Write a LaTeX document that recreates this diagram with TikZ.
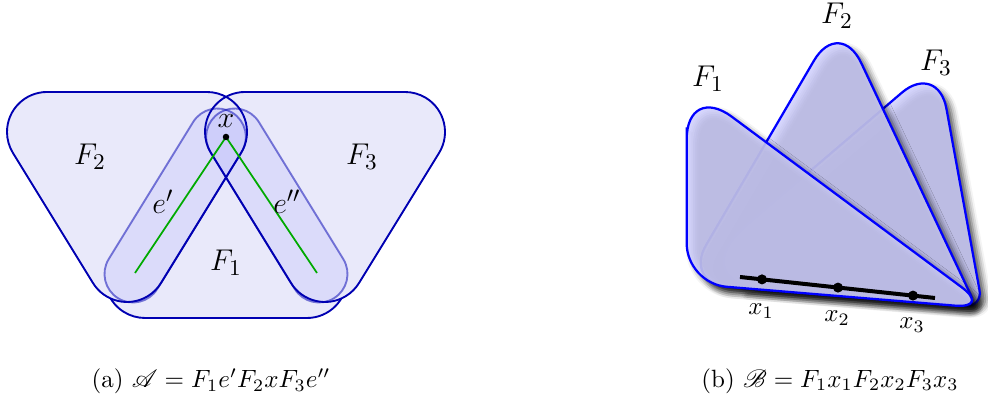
\documentclass[tikz,border=0pt]{standalone}
\usepackage{mathrsfs}
\usetikzlibrary{calc,shadows.blur}
\definecolor{ffill}{RGB}{233,233,250}
\definecolor{fline}{RGB}{0,0,178}
\definecolor{gline}{RGB}{0,170,0}
\tikzset{
  hyperfill/.style={fill=ffill},
  hyperline/.style={draw=fline, line width=0.75pt},
  capsule/.style={fill=blue, fill opacity=0.06, draw=fline, draw opacity=0.5, line width=0.75pt},
  edgeline/.style={draw=gline, line width=0.7pt},
  face/.style={draw=blue, line width=0.9pt, fill=blue!18, fill opacity=0.85,
    blur shadow={shadow xshift=2.2pt, shadow yshift=-2.2pt, shadow blur radius=2.5pt, shadow opacity=70}},
  lbl/.style={inner sep=1pt, font=\fontsize{12.5}{15}\selectfont},
  plbl/.style={inner sep=1pt, font=\normalsize},
}
\begin{document}
\begin{tikzpicture}[x=0.4pt,y=0.4pt]
\useasboundingbox (0,0) rectangle (988,404);
% ---------- (a) ----------
\coordinate (F2tl) at (47,272); \coordinate (F2tr) at (207,272); \coordinate (F2b) at (127,142);
\coordinate (F3tl) at (245,272); \coordinate (F3tr) at (405,272); \coordinate (F3b) at (325,142);
\coordinate (F1bl) at (145,126); \coordinate (F1br) at (307,126); \coordinate (F1a) at (226,254);
\coordinate (eaT) at (217.4,267); \coordinate (eaB) at (133,130);
\coordinate (ebT) at (234.6,267); \coordinate (ebB) at (319,130);
\coordinate (xv) at (226,267); \coordinate (ea) at (135,131); \coordinate (eb) at (317,131);
% F1
\path[hyperfill, hyperline] ($(F1bl)+(270:16pt)$) -- ($(F1br)+(270:16pt)$)
  arc[start angle=-90,end angle=32.3,radius=16pt] -- ($(F1a)+(32.3:16pt)$)
  arc[start angle=32.3,end angle=147.7,radius=16pt] -- ($(F1bl)+(147.7:16pt)$)
  arc[start angle=147.7,end angle=270,radius=16pt] -- cycle;
% F2, F3 fills
\path[hyperfill] ($(F2tr)+(-31.6:16pt)$) arc[start angle=-31.6,end angle=90,radius=16pt]
  -- ($(F2tl)+(90:16pt)$) arc[start angle=90,end angle=211.6,radius=16pt]
  -- ($(F2b)+(211.6:16pt)$) arc[start angle=211.6,end angle=328.4,radius=16pt] -- cycle;
\path[hyperfill] ($(F3tr)+(-31.6:16pt)$) arc[start angle=-31.6,end angle=90,radius=16pt]
  -- ($(F3tl)+(90:16pt)$) arc[start angle=90,end angle=211.6,radius=16pt]
  -- ($(F3b)+(211.6:16pt)$) arc[start angle=211.6,end angle=328.4,radius=16pt] -- cycle;
% capsules
\path[capsule] ($(eaB)+(-31.6:11.4pt)$) -- ($(eaT)+(-31.6:11.4pt)$)
  arc[start angle=-31.6,end angle=148.4,radius=11.4pt] -- ($(eaB)+(148.4:11.4pt)$)
  arc[start angle=148.4,end angle=328.4,radius=11.4pt] -- cycle;
\path[capsule] ($(ebB)+(211.6:11.4pt)$) -- ($(ebT)+(211.6:11.4pt)$)
  arc[start angle=211.6,end angle=31.6,radius=11.4pt] -- ($(ebB)+(31.6:11.4pt)$)
  arc[start angle=31.6,end angle=-148.4,radius=11.4pt] -- cycle;
% F2, F3 outlines
\path[hyperline] ($(F2tr)+(-31.6:16pt)$) arc[start angle=-31.6,end angle=90,radius=16pt]
  -- ($(F2tl)+(90:16pt)$) arc[start angle=90,end angle=211.6,radius=16pt]
  -- ($(F2b)+(211.6:16pt)$) arc[start angle=211.6,end angle=328.4,radius=16pt] -- cycle;
\path[hyperline] ($(F3tr)+(-31.6:16pt)$) arc[start angle=-31.6,end angle=90,radius=16pt]
  -- ($(F3tl)+(90:16pt)$) arc[start angle=90,end angle=211.6,radius=16pt]
  -- ($(F3b)+(211.6:16pt)$) arc[start angle=211.6,end angle=328.4,radius=16pt] -- cycle;
% edges
\draw[edgeline] (xv) -- (ea);
\draw[edgeline] (xv) -- (eb);
\fill[black] (xv) circle[radius=1.3pt];
\node[lbl] (lx) at (226,283) {$x$};
\node[lbl] (lF2a) at (90,247) {$F_2$};
\node[lbl] (lF3a) at (362,247) {$F_3$};
\node[lbl] (lF1a) at (226,141) {$F_1$};
\node[lbl] (lea) at (163,202) {$e'$};
\node[lbl] (leb) at (287,202) {$e''$};
\node (capa) at (211,23) {(a) $\mathscr{A} = F_1e'F_2xF_3e''$};
% ---------- (b) ----------
\coordinate (G3t) at (937.9,342.1); \coordinate (G3l) at (679,121.1); \coordinate (G3r) at (982.6,96.8);
\coordinate (G2t) at (839.5,387); \coordinate (G2l) at (683.7,120.8); \coordinate (G2r) at (976.2,97.4);
\coordinate (G1t) at (686.7,320.7); \coordinate (G1l) at (686.7,120.5); \coordinate (G1r) at (990.4,95.4);
\path[face] ($(G3l)!0.5!(G3r)$) [rounded corners=6.9pt] -- (G3r) -- ($(G3r)!0.5!(G3t)$)
  [rounded corners=19pt] -- (G3t) -- ($(G3t)!0.5!(G3l)$) [rounded corners=35.5pt] -- (G3l) -- cycle;
\path[face] ($(G2l)!0.5!(G2r)$) [rounded corners=4.7pt] -- (G2r) -- ($(G2r)!0.5!(G2t)$)
  [rounded corners=20.3pt] -- (G2t) -- ($(G2t)!0.5!(G2l)$) [rounded corners=17.7pt] -- (G2l) -- cycle;
\path[face] ($(G1l)!0.5!(G1r)$) [rounded corners=14.2pt] -- (G1r) -- ($(G1r)!0.5!(G1t)$)
  [rounded corners=22.4pt] -- (G1t) -- ($(G1t)!0.5!(G1l)$) [rounded corners=16pt] -- (G1l) -- cycle;
\coordinate (ls) at (740,127); \coordinate (le) at (935,106);
\coordinate (p1) at (762,124.6); \coordinate (p2) at (838,116.4); \coordinate (p3) at (913,108.4);
\draw[line width=1.6pt] (ls) -- (le);
\foreach \p in {p1,p2,p3} \fill (\p) circle[radius=2pt];
\node[plbl] (lx1) at (761,93) {$x_1$};
\node[plbl] (lx2) at (837,86) {$x_2$};
\node[plbl] (lx3) at (912,79) {$x_3$};
\node[lbl] (lF1b) at (708,325) {$F_1$};
\node[lbl] (lF2b) at (837,388) {$F_2$};
\node[lbl] (lF3b) at (936,341) {$F_3$};
\node (capb) at (830,23) {(b) $\mathscr{B} = F_1x_1F_2x_2F_3x_3$};
\end{tikzpicture}
\end{document}
